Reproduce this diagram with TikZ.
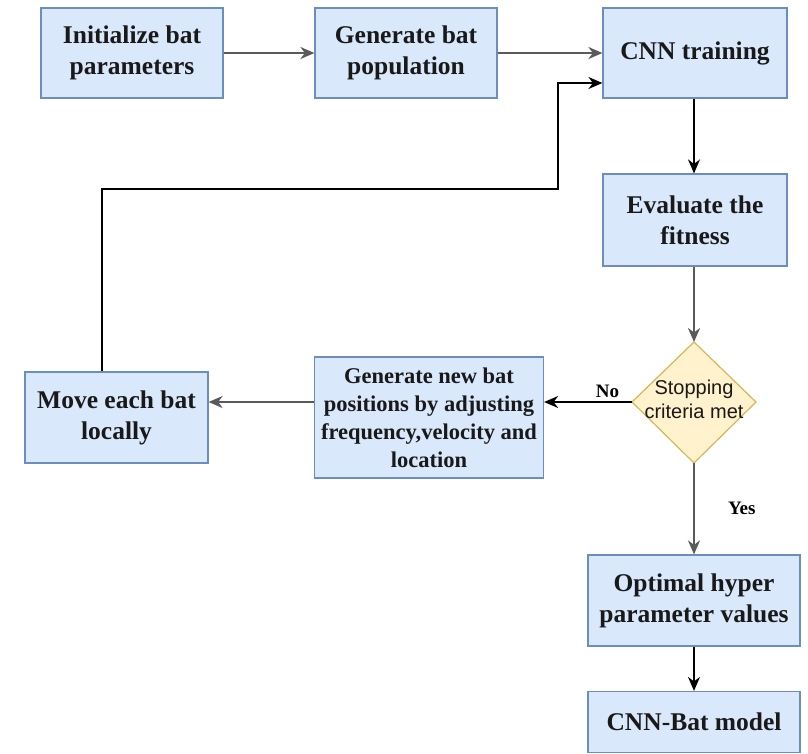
\documentclass[tikz,border=0pt]{standalone}
\usepackage{fontspec}
\setmainfont{Liberation Serif}
\newfontfamily\diafont{Liberation Sans}
\usetikzlibrary{arrows.meta}
\definecolor{boxfill}{HTML}{DAE8FC}
\definecolor{boxline}{HTML}{6C8EBF}
\definecolor{dfill}{HTML}{FFF2CC}
\definecolor{dline}{HTML}{D6B656}
\definecolor{arrgray}{HTML}{5A5A5A}
\tikzset{
  stepbox/.style={draw=boxline, fill=boxfill, line width=1.2pt, align=center,
    inner sep=0pt, text=black!90, font=\bfseries\fontsize{25.5}{31}\selectfont},
  arrA/.style={draw=arrgray, line width=2.2pt, -{Stealth[length=14pt,width=12pt,inset=4.5pt]}},
  arrB/.style={draw=black, line width=1.4pt, -{Stealth[length=14pt,width=12pt,inset=4.5pt]}},
  lbl/.style={font=\bfseries\fontsize{19}{22}\selectfont, inner sep=0pt}
}
\begin{document}
\begin{tikzpicture}[x=1pt,y=-1pt]
\useasboundingbox (0,0) rectangle (808,753);
% boxes
\node[stepbox, minimum width=182pt, minimum height=90pt] (init) at (132,53) {Initialize bat\\parameters};
\node[stepbox, minimum width=182pt, minimum height=90pt] (gen) at (406,53) {Generate bat\\population};
\node[stepbox, minimum width=184pt, minimum height=90pt] (cnn) at (695,53) {CNN training};
\node[stepbox, minimum width=184pt, minimum height=92pt] (eval) at (695,220) {Evaluate the\\fitness};
\node[stepbox, minimum width=229pt, minimum height=121pt, font=\bfseries\fontsize{22.5}{28}\selectfont] (newpos) at (429,417.5) {Generate new bat\\positions by adjusting\\frequency,velocity and\\location};
\node[stepbox, minimum width=183pt, minimum height=91pt] (move) at (116.5,417.5) {Move each bat\\locally};
\node[stepbox, minimum width=212pt, minimum height=91pt] (opt) at (694,600.5) {Optimal hyper\\parameter values};
\node[stepbox, minimum width=212pt, minimum height=61pt] (final) at (694,722) {CNN-Bat model};
% diamond
\coordinate (dtop) at (694,342);
\coordinate (dleft) at (632,402);
\coordinate (dright) at (756,402);
\coordinate (dbot) at (694,463);
\draw[draw=dline, fill=dfill, line width=1.2pt] (dtop) -- (dright) -- (dbot) -- (dleft) -- cycle;
\node[align=center, inner sep=0pt, text=black!90, font=\diafont\fontsize{20}{24}\selectfont] (stop) at (694,399) {Stopping\\criteria met};
% connectors
\draw[arrA] (init.east) -- (gen.west);
\draw[arrA] (gen.east) -- (cnn.west);
\draw[arrB] (cnn.south -| 694,0) -- (eval.north -| 694,0);
\draw[arrA] (eval.south -| 694,0) -- (dtop);
\draw[arrB] (dleft) -- (newpos.east |- dleft) node[lbl, pos=0.28, above=4pt] (no) {No};
\draw[arrA] (newpos.west |- dleft) -- (move.east |- dleft);
\coordinate (c1) at (102,189);
\coordinate (c2) at (558,189);
\coordinate (c3) at (558,83);
\draw[arrB] (move.north -| c1) -- (c1) -- (c2) -- (c3) -- (cnn.west |- c3);
\draw[arrA] (dbot) -- (opt.north) node[lbl, pos=0.5, right=33pt] (yes) {Yes};
\draw[arrB] (opt.south) -- (final.north);
\end{tikzpicture}
\end{document}
